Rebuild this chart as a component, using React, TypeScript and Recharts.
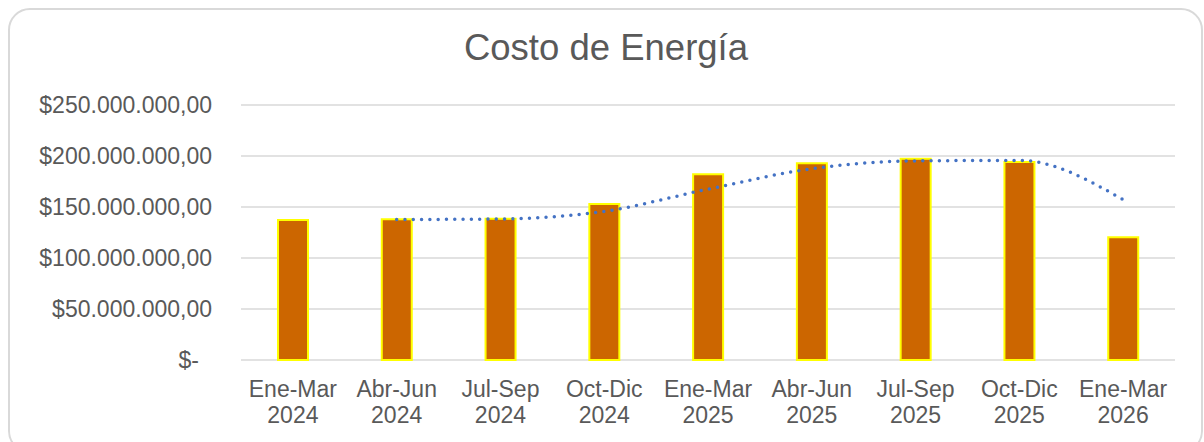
import { ComposedChart, Bar, Line, XAxis, YAxis, CartesianGrid } from 'recharts';

const categories = [
  'Ene-Mar 2024',
  'Abr-Jun 2024',
  'Jul-Sep 2024',
  'Oct-Dic 2024',
  'Ene-Mar 2025',
  'Abr-Jun 2025',
  'Jul-Sep 2025',
  'Oct-Dic 2025',
  'Ene-Mar 2026',
];

const costo = [
  137300000, 138000000, 138500000, 153000000, 182000000, 193000000, 197400000, 194000000,
  120300000,
];

// media móvil de 2 periodos (no hay punto en el primer periodo)
const tendencia = [
  null, 137700000, 138300000, 145700000, 167500000, 187500000, 195200000, 195700000, 157200000,
];

const yTicks = [0, 50000000, 100000000, 150000000, 200000000, 250000000];
const yTickLabels = [
  '$-',
  '$50.000.000,00',
  '$100.000.000,00',
  '$150.000.000,00',
  '$200.000.000,00',
  '$250.000.000,00',
];

const data = categories.map((c, i) => ({ periodo: c, costo: costo[i], tendencia: tendencia[i] }));

const FONT = '"Liberation Sans", Arial, sans-serif';
const TEXT = '#595959';

const YTick = (props: any) => {
  const { x, y, payload } = props;
  const idx = yTicks.indexOf(payload.value);
  const isZero = payload.value === 0;
  return (
    <text
      x={isZero ? x - 13 : x}
      y={y + 8}
      textAnchor="end"
      fill={TEXT}
      fontSize={23}
      fontFamily={FONT}
    >
      {yTickLabels[idx]}
    </text>
  );
};

const XTick = (props: any) => {
  const { x, y, payload } = props;
  const [period, year] = String(payload.value).split(' ');
  return (
    <g>
      <text x={x} y={y + 37} textAnchor="middle" fill={TEXT} fontSize={23} fontFamily={FONT}>
        {period}
      </text>
      <text x={x} y={y + 63} textAnchor="middle" fill={TEXT} fontSize={23} fontFamily={FONT}>
        {year}
      </text>
    </g>
  );
};

export default function App() {
  return (
    <div
      style={{
        position: 'absolute',
        left: 0,
        top: 0,
        width: 1204,
        height: 442,
        overflow: 'hidden',
        background: '#fff',
        fontFamily: FONT,
      }}
    >
      <div
        style={{
          position: 'absolute',
          left: 8,
          top: 8,
          width: 1195,
          height: 445,
          boxSizing: 'border-box',
          border: '2px solid #d9d9d9',
          borderRadius: 22,
        }}
      />
      <div
        style={{
          position: 'absolute',
          left: 4,
          top: 30,
          width: 1204,
          textAlign: 'center',
          fontSize: 36.5,
          lineHeight: '36px',
          color: TEXT,
        }}
      >
        Costo de Energía
      </div>
      <div style={{ position: 'absolute', left: 0, top: 0 }}>
        <ComposedChart
          width={1204}
          height={442}
          data={data}
          margin={{ top: 105, right: 29, bottom: 22, left: 41 }}
        >
          <CartesianGrid vertical={false} stroke="#d9d9d9" strokeWidth={1.5} />
          <XAxis
            dataKey="periodo"
            height={60}
            axisLine={false}
            tickLine={false}
            tickSize={0}
            tickMargin={0}
            interval={0}
            tick={<XTick />}
          />
          <YAxis
            width={200}
            domain={[0, 250000000]}
            ticks={yTicks}
            axisLine={false}
            tickLine={false}
            tickSize={0}
            tickMargin={29}
            tick={<YTick />}
          />
          <Bar
            dataKey="costo"
            fill="#CC6600"
            stroke="#FFFF00"
            strokeWidth={2}
            barSize={30}
            isAnimationActive={false}
          />
          <Line
            dataKey="tendencia"
            type="monotone"
            stroke="#4472C4"
            strokeWidth={3.5}
            strokeDasharray="0 8.3"
            strokeLinecap="round"
            dot={false}
            activeDot={false}
            isAnimationActive={false}
          />
        </ComposedChart>
      </div>
    </div>
  );
}
